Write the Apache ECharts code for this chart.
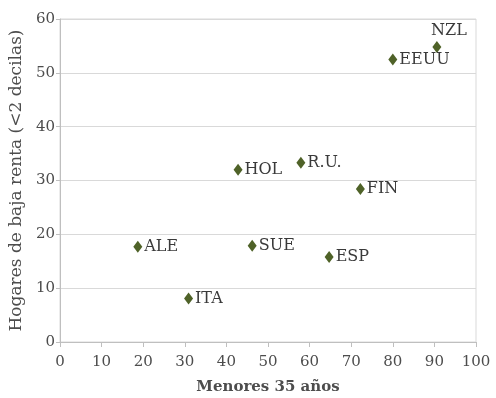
<!DOCTYPE html>
<html lang="es">
<head>
<meta charset="UTF-8">
<title>Hogares de baja renta</title>
<script src="https://cdn.jsdelivr.net/npm/echarts@6/dist/echarts.min.js"></script>
<style>
  html, body { margin: 0; padding: 0; background: #fff; }
  #chart { width: 496px; height: 398px; }
</style>
</head>
<body>
<div id="chart"></div>
<script>
// países y valores
var paises = ["NZL", "EEUU", "HOL", "R.U.", "FIN", "ALE", "ITA", "SUE", "ESP"];
var menores35 = [90.6, 80.0, 42.8, 57.9, 72.2, 18.7, 30.9, 46.2, 64.7];
var bajaRenta = [54.8, 52.5, 32.0, 33.3, 28.4, 17.7, 8.1, 17.9, 15.8];

var fuente = "DejaVu Serif";

var puntos = paises.map(function (p, i) {
  // NZL lleva la etiqueta encima, algo desplazada a la derecha
  var lbl = p === "NZL" ? { position: "top", offset: [12, 0] } : { position: "right" };
  return { value: [menores35[i], bajaRenta[i]], name: p, label: lbl };
});

var myChart = echarts.init(document.getElementById("chart"));
var option = {
  animation: false,
  grid: {
    left: 60, right: 20, top: 19, bottom: 56,
    outerBoundsMode: "none",
    show: true, borderColor: "#d9d9d9", borderWidth: 1
  },
  xAxis: {
    type: "value", min: 0, max: 100, interval: 10,
    name: "Menores 35 años",
    nameLocation: "middle",
    nameGap: 38,
    nameTextStyle: { fontFamily: fuente, fontSize: 15, fontWeight: "bold", color: "#4d4d4d" },
    axisLine: { lineStyle: { color: "#bfbfbf" } },
    axisTick: { show: true, length: 5, lineStyle: { color: "#bfbfbf" } },
    axisLabel: { fontFamily: fuente, fontSize: 15, color: "#4d4d4d", margin: 13 },
    splitLine: { show: false }
  },
  yAxis: {
    type: "value", min: 0, max: 60, interval: 10,
    name: "Hogares de baja renta (<2 decilas)",
    nameLocation: "middle",
    nameGap: 32,
    nameTextStyle: { fontFamily: fuente, fontSize: 17, color: "#4d4d4d" },
    axisLine: { show: true, lineStyle: { color: "#bfbfbf" } },
    axisTick: { show: true, length: 4, lineStyle: { color: "#bfbfbf" } },
    axisLabel: { fontFamily: fuente, fontSize: 15, color: "#4d4d4d", margin: 5 },
    splitLine: { lineStyle: { color: "#d9d9d9" } }
  },
  series: [{
    type: "scatter",
    symbol: "diamond",
    symbolSize: [9, 12],
    itemStyle: { color: "#4f6228", opacity: 1 },
    label: {
      show: true,
      formatter: "{b}",
      distance: 2,
      fontFamily: fuente,
      fontSize: 16,
      color: "#3a3a3a"
    },
    data: puntos
  }]
};
myChart.setOption(option);
</script>
</body>
</html>
